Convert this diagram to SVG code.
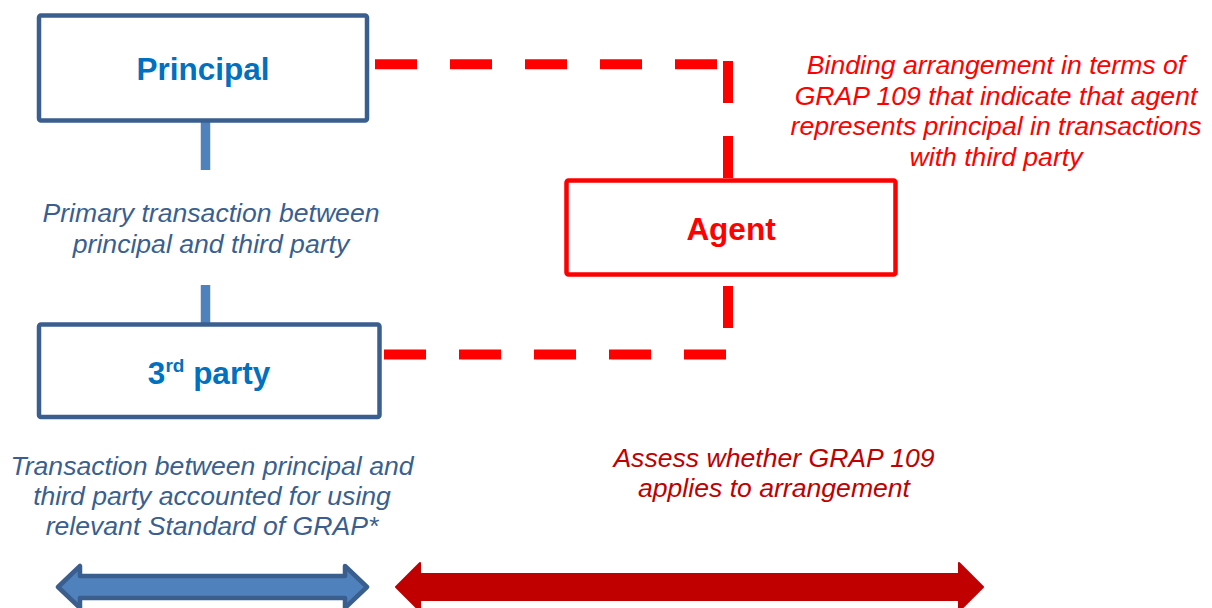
<svg xmlns="http://www.w3.org/2000/svg" width="1212" height="608" viewBox="0 0 1212 608">
<style>
.box{fill:#fff;stroke:#3A5F8F;stroke-width:4.5}
.rbox{fill:#fff;stroke:#FF0000;stroke-width:4.5}
.title{font-family:"Liberation Sans",Arial,sans-serif;font-weight:bold;font-size:31.5px;text-anchor:middle}
.note{font-family:"Liberation Sans",Arial,sans-serif;font-style:italic;font-size:26.6px;text-anchor:middle}
.dash{stroke:#FF0000;stroke-width:10;stroke-dasharray:42 33;fill:none}
</style>
<rect width="1212" height="608" fill="#fff"/>
<g id="connectors">
  <line x1="205.5" y1="122" x2="205.5" y2="170" stroke="#4F81BD" stroke-width="9.5"/>
  <line x1="205.5" y1="285" x2="205.5" y2="323" stroke="#4F81BD" stroke-width="9.5"/>
  <line class="dash" x1="375" y1="64.3" x2="717" y2="64.3"/>
  <line class="dash" x1="728" y1="61" x2="728" y2="328"/>
  <line class="dash" x1="384" y1="354.5" x2="726" y2="354.5"/>
</g>
<g id="principal">
  <rect class="box" x="39" y="15.5" width="328" height="105" rx="2"/>
  <text class="title" x="203" y="80" fill="#0070C0">Principal</text>
</g>
<g id="third-party">
  <rect class="box" x="39" y="324.5" width="340.5" height="92.5" rx="2"/>
  <text class="title" x="209" y="384" fill="#0070C0">3<tspan font-size="19" dy="-12">rd</tspan><tspan dy="12"> party</tspan></text>
</g>
<g id="agent">
  <rect class="rbox" x="566.5" y="180.5" width="329" height="94" rx="2"/>
  <text class="title" x="731" y="240" fill="#FF0000">Agent</text>
</g>
<g id="primary-label" class="note" fill="#3A5F8F">
  <text x="211" y="222">Primary transaction between</text>
  <text x="211" y="253">principal and third party</text>
</g>
<g id="binding-label" class="note" fill="#FF0000">
  <text x="996" y="74">Binding arrangement in terms of</text>
  <text x="996" y="104.5">GRAP 109 that indicate that agent</text>
  <text x="996" y="135">represents principal in transactions</text>
  <text x="996" y="165.5">with third party</text>
</g>
<g id="transaction-label" class="note" fill="#3A5F8F">
  <text x="212" y="475">Transaction between principal and</text>
  <text x="212" y="505">third party accounted for using</text>
  <text x="212" y="535">relevant Standard of GRAP*</text>
</g>
<g id="assess-label" class="note" fill="#C00000">
  <text x="774" y="467">Assess whether GRAP 109</text>
  <text x="774" y="497">applies to arrangement</text>
</g>
<g id="blue-arrow">
  <polygon points="58,587 80,566 80,576 345,576 345,566 367,587 345,608 345,598 80,598 80,608" fill="#4F81BD" stroke="#3A5F8F" stroke-width="4.5" stroke-linejoin="round"/>
</g>
<g id="red-arrow">
  <polygon points="396,587 420,563 420,574 959,574 959,563 983,587 959,611 959,600 420,600 420,611" fill="#C00000" stroke="#C00000" stroke-width="2" stroke-linejoin="round"/>
</g>
</svg>
